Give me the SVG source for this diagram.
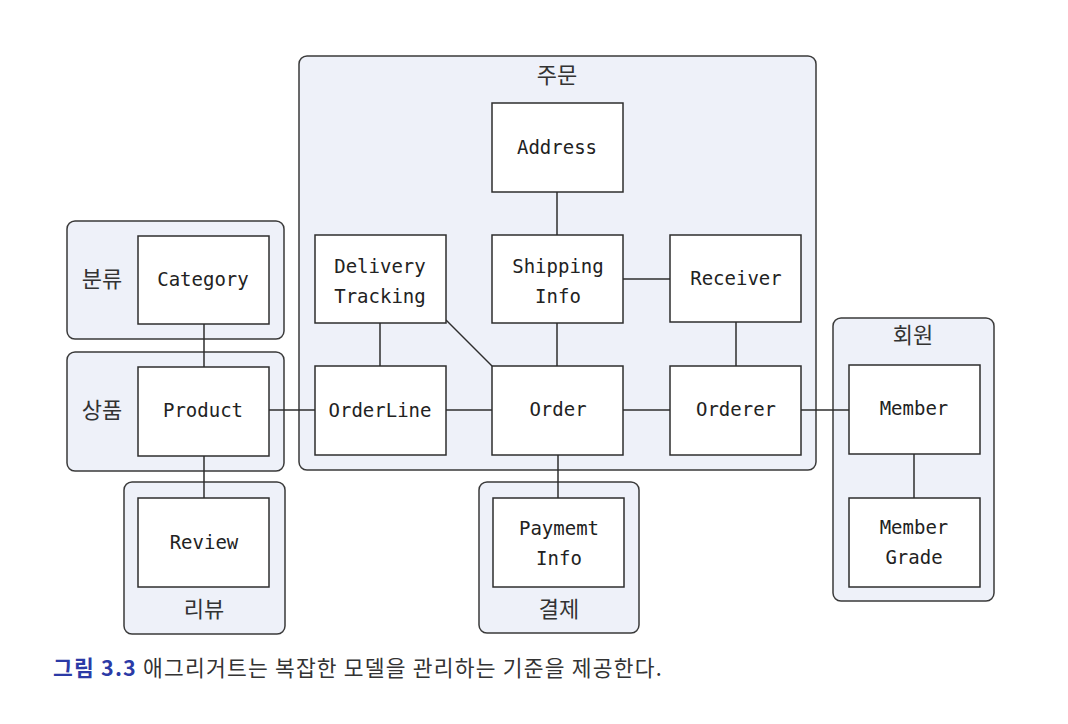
<svg xmlns="http://www.w3.org/2000/svg" width="1068" height="724" viewBox="0 0 1068 724">
<style>
.grp{fill:#eef1f9;stroke:#3a3a3a;stroke-width:1.5}
.box{fill:#ffffff;stroke:#2e2e2e;stroke-width:1.5}
.t{font-family:"DejaVu Sans Mono","Liberation Mono",monospace;font-size:19px;fill:#222;text-anchor:middle}
.k{font-family:"Noto Sans CJK KR","Noto Sans",sans-serif;font-size:22px;fill:#333;text-anchor:middle}
.ln{stroke:#2e2e2e;stroke-width:1.5;fill:none}
</style>
<rect width="1068" height="724" fill="#ffffff"/>
<g id="group-order">
<rect class="grp" x="299" y="56" width="517" height="414" rx="8"/>
<text class="k" x="557" y="83">주문</text>
</g>
<g id="group-category">
<rect class="grp" x="67" y="221" width="217" height="118" rx="8"/>
<text class="k" x="102" y="287">분류</text>
</g>
<g id="group-product">
<rect class="grp" x="67" y="352" width="217" height="119" rx="8"/>
<text class="k" x="102" y="418">상품</text>
</g>
<g id="group-review">
<rect class="grp" x="124" y="482" width="161" height="152" rx="8"/>
<text class="k" x="204" y="617">리뷰</text>
</g>
<g id="group-payment">
<rect class="grp" x="479" y="482" width="160" height="151" rx="8"/>
<text class="k" x="559" y="617">결제</text>
</g>
<g id="group-member">
<rect class="grp" x="833" y="318" width="161" height="283" rx="8"/>
<text class="k" x="913" y="343">회원</text>
</g>
<g id="connectors">
<line class="ln" x1="204" y1="324" x2="204" y2="367"/>
<line class="ln" x1="204" y1="456" x2="204" y2="498"/>
<line class="ln" x1="269" y1="410" x2="315" y2="410"/>
<line class="ln" x1="380" y1="323" x2="380" y2="366"/>
<line class="ln" x1="446" y1="320" x2="492" y2="366"/>
<line class="ln" x1="557" y1="192" x2="557" y2="235"/>
<line class="ln" x1="623" y1="279" x2="670" y2="279"/>
<line class="ln" x1="557" y1="323" x2="557" y2="366"/>
<line class="ln" x1="736" y1="322" x2="736" y2="366"/>
<line class="ln" x1="446" y1="410" x2="492" y2="410"/>
<line class="ln" x1="623" y1="410" x2="670" y2="410"/>
<line class="ln" x1="801" y1="410" x2="849" y2="410"/>
<line class="ln" x1="914" y1="454" x2="914" y2="498"/>
<line class="ln" x1="558" y1="455" x2="558" y2="498"/>
</g>
<g id="node-category">
<rect class="box" x="138" y="236" width="131" height="88"/>
<text class="t" x="203" y="286">Category</text>
</g>
<g id="node-product">
<rect class="box" x="138" y="367" width="131" height="89"/>
<text class="t" x="203" y="417">Product</text>
</g>
<g id="node-review">
<rect class="box" x="138" y="498" width="131" height="89"/>
<text class="t" x="204" y="549">Review</text>
</g>
<g id="node-address">
<rect class="box" x="492" y="103" width="131" height="89"/>
<text class="t" x="557" y="154">Address</text>
</g>
<g id="node-delivery-tracking">
<rect class="box" x="315" y="235" width="131" height="88"/>
<text class="t" x="380" y="273">Delivery</text>
<text class="t" x="380" y="303">Tracking</text>
</g>
<g id="node-shipping-info">
<rect class="box" x="492" y="235" width="131" height="88"/>
<text class="t" x="558" y="273">Shipping</text>
<text class="t" x="558" y="303">Info</text>
</g>
<g id="node-receiver">
<rect class="box" x="670" y="235" width="131" height="87"/>
<text class="t" x="736" y="285">Receiver</text>
</g>
<g id="node-orderline">
<rect class="box" x="315" y="366" width="131" height="89"/>
<text class="t" x="380" y="417">OrderLine</text>
</g>
<g id="node-order">
<rect class="box" x="492" y="366" width="131" height="89"/>
<text class="t" x="558" y="416">Order</text>
</g>
<g id="node-orderer">
<rect class="box" x="670" y="366" width="131" height="89"/>
<text class="t" x="736" y="416">Orderer</text>
</g>
<g id="node-payment-info">
<rect class="box" x="493" y="498" width="131" height="89"/>
<text class="t" x="559" y="535">Paymemt</text>
<text class="t" x="559" y="565">Info</text>
</g>
<g id="node-member">
<rect class="box" x="849" y="365" width="131" height="89"/>
<text class="t" x="914" y="415">Member</text>
</g>
<g id="node-member-grade">
<rect class="box" x="849" y="498" width="131" height="89"/>
<text class="t" x="914" y="534">Member</text>
<text class="t" x="914" y="564">Grade</text>
</g>
<text x="53" y="676" font-family="'Noto Sans CJK KR','Noto Sans',sans-serif" font-size="21.5" letter-spacing="1.2" fill="#333"><tspan fill="#2b3aa6" font-weight="bold">그림 3.3</tspan> 애그리거트는 복잡한 모델을 관리하는 기준을 제공한다.</text>
</svg>
